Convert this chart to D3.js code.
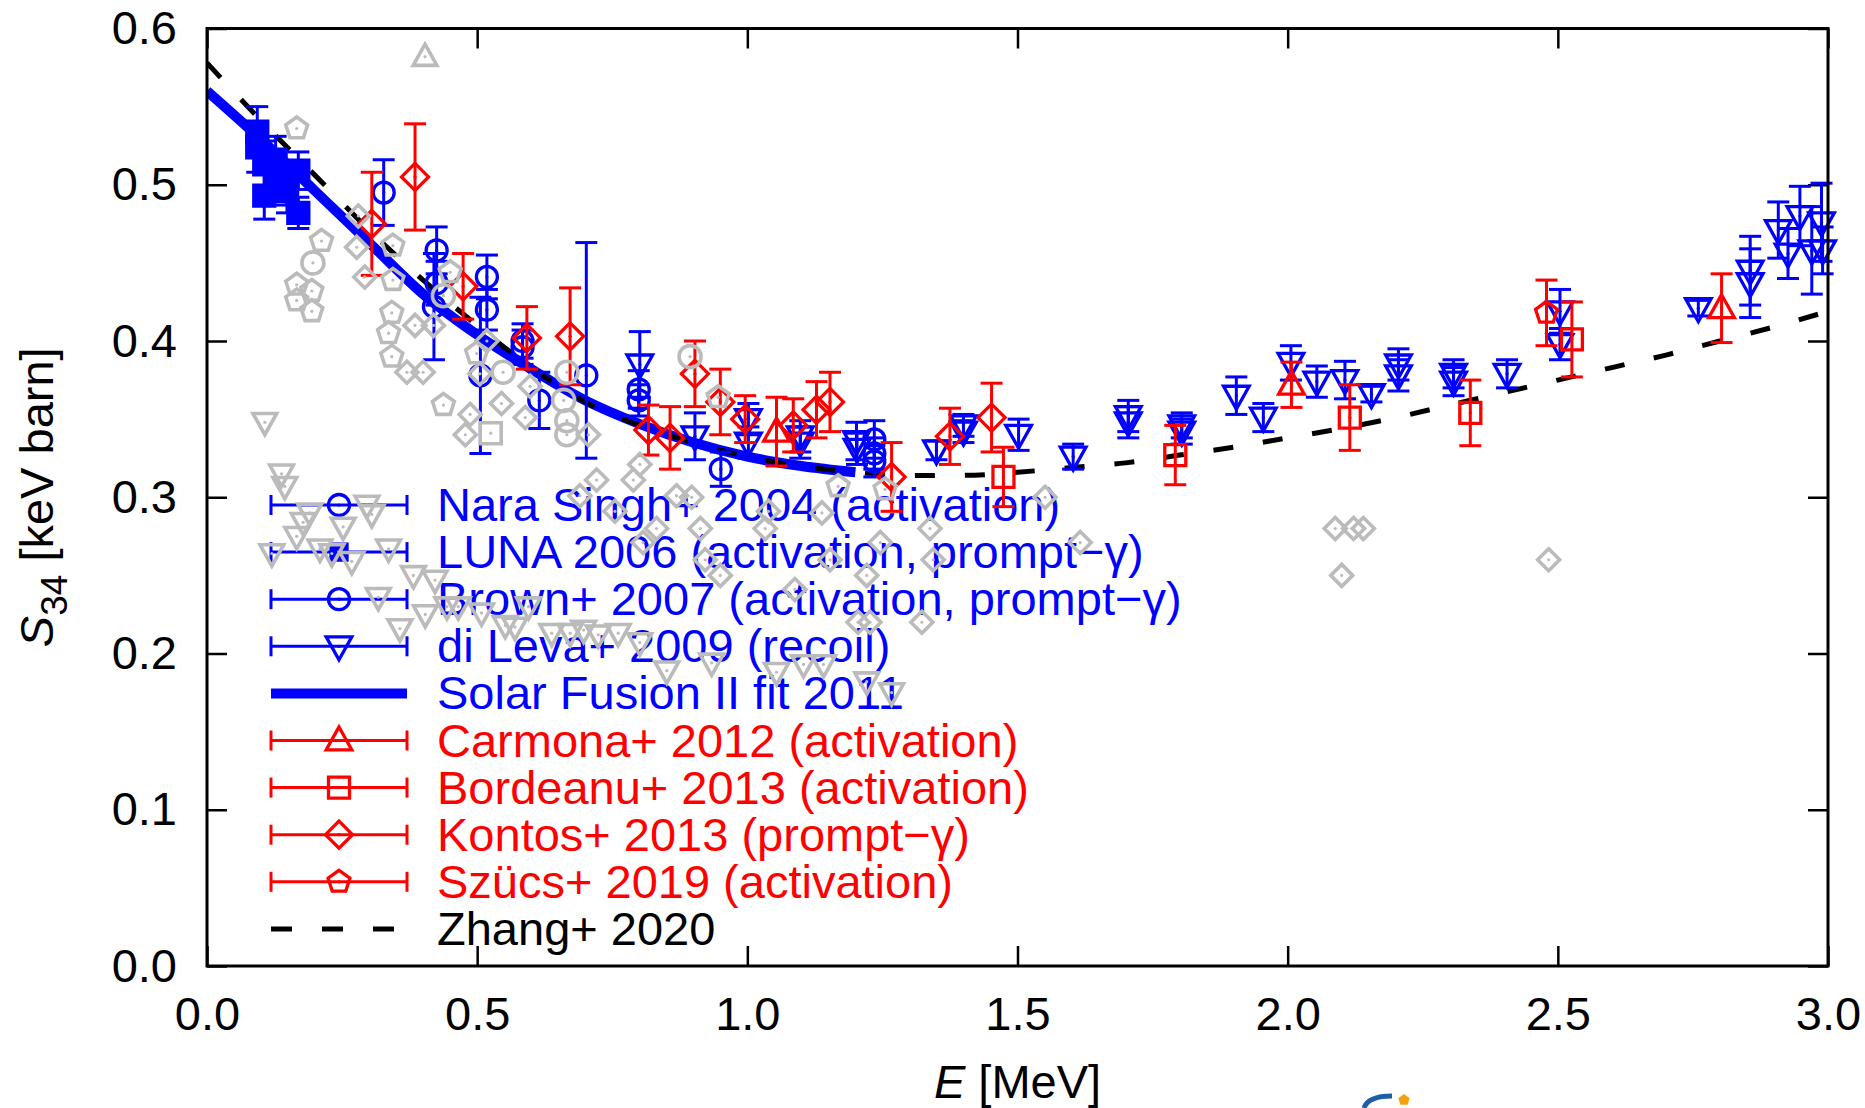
<!DOCTYPE html>
<html><head><meta charset="utf-8">
<script src="https://cdn.jsdelivr.net/npm/d3@7"></script>
<style>
html,body{margin:0;padding:0;background:#fff;}
svg{display:block;font-family:"Liberation Sans",Arial,Helvetica,sans-serif;}
</style></head><body>
<svg id="chart" width="1865" height="1108"></svg>
<script>
// ---------------- data ----------------
const xDomain = [0, 3];
const yDomain = [0, 0.6];
const xTicks = [0, 0.5, 1.0, 1.5, 2.0, 2.5, 3.0];
const yTicks = [0, 0.1, 0.2, 0.3, 0.4, 0.5, 0.6];
const xLabelItalic = "E", xLabelRest = " [MeV]";
const yLabelMain = "S", yLabelSub = "34", yLabelRest = " [keV barn]";

const naraE = [0.420, 0.506, 0.615, 0.951];
const naraS = [0.422, 0.378, 0.362, 0.318];
const naraErr = [0.034, 0.050, 0.018, 0.011];

const lunaE = [0.093, 0.093, 0.106, 0.106, 0.127, 0.127, 0.148, 0.148, 0.169, 0.169];
const lunaS = [0.534, 0.524, 0.493, 0.513, 0.516, 0.505, 0.501, 0.496, 0.509, 0.482];
const lunaErr = [0.016, 0.016, 0.015, 0.015, 0.015, 0.015, 0.014, 0.014, 0.012, 0.010];

const brownE = [0.327, 0.425, 0.425, 0.518, 0.518, 0.584, 0.584, 0.702, 0.799, 0.799, 1.235, 1.235, 1.235];
const brownS = [0.495, 0.458, 0.437, 0.441, 0.420, 0.400, 0.396, 0.378, 0.369, 0.362, 0.337, 0.328, 0.323];
const brownErrLo = [0.021, 0.015, 0.014, 0.014, 0.013, 0.011, 0.011, 0.053, 0.012, 0.010, 0.012, 0.010, 0.010];
const brownErrHi = [0.021, 0.015, 0.014, 0.014, 0.013, 0.011, 0.011, 0.085, 0.012, 0.010, 0.012, 0.010, 0.010];

const dilevaE = [0.801, 0.903, 1.002, 1.002, 1.098, 1.098, 1.202, 1.203, 1.350, 1.400, 1.400, 1.502, 1.603, 1.705, 1.705, 1.804, 1.804, 1.905, 1.955, 2.006, 2.054, 2.106, 2.155, 2.205, 2.205, 2.307, 2.307, 2.406, 2.504, 2.504, 2.760, 2.856, 2.856, 2.908, 2.926, 2.948, 2.970, 2.988, 2.990];
const dilevaS = [0.385, 0.339, 0.350, 0.335, 0.339, 0.335, 0.336, 0.331, 0.330, 0.346, 0.342, 0.340, 0.326, 0.352, 0.348, 0.346, 0.342, 0.365, 0.351, 0.386, 0.374, 0.375, 0.366, 0.385, 0.378, 0.379, 0.374, 0.379, 0.419, 0.398, 0.421, 0.445, 0.437, 0.471, 0.456, 0.480, 0.458, 0.476, 0.458];
const dilevaErr = [0.021, 0.015, 0.010, 0.010, 0.010, 0.010, 0.012, 0.010, 0.006, 0.007, 0.007, 0.010, 0.008, 0.010, 0.010, 0.008, 0.008, 0.012, 0.009, 0.011, 0.010, 0.012, 0.005, 0.010, 0.010, 0.009, 0.009, 0.009, 0.014, 0.010, 0.005, 0.022, 0.022, 0.018, 0.016, 0.019, 0.028, 0.025, 0.015];

const sf2E = [0, 0.1, 0.2, 0.3, 0.4, 0.5, 0.6, 0.7, 0.8, 0.9, 1.0, 1.1, 1.2];
const sf2S = [0.560, 0.529, 0.496, 0.463, 0.430, 0.404, 0.382, 0.362, 0.347, 0.335, 0.326, 0.320, 0.316];

const carmonaE = [1.054, 2.007, 2.803];
const carmonaS = [0.342, 0.372, 0.421];
const carmonaErr = [0.022, 0.0145, 0.022];

const bordeanuE = [1.474, 1.792, 2.115, 2.338, 2.526];
const bordeanuS = [0.313, 0.327, 0.351, 0.354, 0.401];
const bordeanuErr = [0.019, 0.019, 0.021, 0.021, 0.024];

const kontosE = [0.305, 0.385, 0.474, 0.592, 0.672, 0.817, 0.857, 0.903, 0.950, 0.996, 1.085, 1.128, 1.153, 1.267, 1.375, 1.452];
const kontosS = [0.475, 0.505, 0.435, 0.402, 0.403, 0.343, 0.338, 0.379, 0.361, 0.350, 0.346, 0.356, 0.361, 0.313, 0.339, 0.351];
const kontosErr = [0.033, 0.034, 0.021, 0.020, 0.031, 0.016, 0.020, 0.021, 0.021, 0.015, 0.017, 0.018, 0.019, 0.022, 0.018, 0.022];

const szucsE = [2.479];
const szucsS = [0.418];
const szucsErr = [0.021];

const zhangE = [0, 0.1, 0.2, 0.3, 0.4, 0.5, 0.6, 0.7, 0.8, 0.9, 1.0, 1.1, 1.2, 1.3, 1.4, 1.5, 1.6, 1.7, 1.8, 1.9, 2.0, 2.1, 2.2, 2.3, 2.4, 2.5, 2.6, 2.7, 2.8, 2.9, 3.0];
const zhangS = [0.578, 0.541, 0.506, 0.471, 0.439, 0.410, 0.383, 0.361, 0.346, 0.335, 0.326, 0.320, 0.316, 0.314, 0.314, 0.316, 0.319, 0.322, 0.327, 0.332, 0.338, 0.344, 0.351, 0.359, 0.367, 0.375, 0.383, 0.391, 0.400, 0.409, 0.419];

// older (grey) data, no legend entry
const oldUpTriE = [0.4035];
const oldUpTriS = [0.582];
const oldSquareE = [0.525];
const oldSquareS = [0.341];
const oldCircleE = [0.196, 0.4375, 0.548, 0.666, 0.660, 0.666, 0.666, 0.894];
const oldCircleS = [0.450, 0.429, 0.380, 0.380, 0.362, 0.349, 0.340, 0.390];
const oldPentagonE = [0.166, 0.212, 0.166, 0.194, 0.166, 0.194, 0.344, 0.344, 0.342, 0.336, 0.342, 0.450, 0.499, 0.4375, 0.946, 1.168, 1.255];
const oldPentagonS = [0.536, 0.464, 0.436, 0.432, 0.426, 0.419, 0.461, 0.439, 0.418, 0.405, 0.390, 0.444, 0.392, 0.359, 0.364, 0.307, 0.305];
const oldDiamondE = [0.280, 0.277, 0.292, 0.370, 0.400, 0.385, 0.419, 0.518, 0.505, 0.598, 0.487, 0.478, 0.545, 0.589, 0.706, 0.801, 0.789, 0.721, 0.690, 0.755, 0.869, 0.897, 0.832, 0.807, 0.913, 1.039, 1.033, 1.138, 0.922, 0.950, 1.088, 1.153, 1.246, 1.221, 1.338, 1.344, 1.205, 1.227, 1.323, 1.551, 1.616, 2.088, 2.122, 2.140, 2.100, 2.483];
const oldDiamondS = [0.480, 0.460, 0.441, 0.380, 0.380, 0.410, 0.410, 0.400, 0.379, 0.371, 0.353, 0.340, 0.360, 0.351, 0.340, 0.321, 0.311, 0.311, 0.301, 0.291, 0.301, 0.300, 0.280, 0.271, 0.280, 0.291, 0.280, 0.290, 0.260, 0.250, 0.241, 0.260, 0.271, 0.250, 0.280, 0.260, 0.220, 0.220, 0.220, 0.300, 0.271, 0.280, 0.280, 0.280, 0.250, 0.260];
const oldDownTriE = [0.107, 0.138, 0.144, 0.190, 0.178, 0.296, 0.305, 0.252, 0.166, 0.120, 0.209, 0.231, 0.268, 0.336, 0.382, 0.422, 0.317, 0.357, 0.404, 0.444, 0.465, 0.508, 0.552, 0.570, 0.595, 0.638, 0.672, 0.697, 0.724, 0.761, 0.801, 0.851, 0.934, 1.054, 1.104, 1.141, 1.221, 1.267];
const oldDownTriS = [0.348, 0.315, 0.307, 0.290, 0.284, 0.295, 0.289, 0.281, 0.275, 0.264, 0.267, 0.264, 0.259, 0.267, 0.250, 0.247, 0.236, 0.216, 0.225, 0.230, 0.230, 0.226, 0.218, 0.217, 0.230, 0.213, 0.213, 0.215, 0.212, 0.213, 0.207, 0.189, 0.194, 0.188, 0.193, 0.193, 0.182, 0.175];

const legendLabels = [
  "Nara Singh+ 2004 (activation)",
  "LUNA 2006 (activation, prompt\u2212\u03b3)",
  "Brown+ 2007 (activation, prompt\u2212\u03b3)",
  "di Leva+ 2009 (recoil)",
  "Solar Fusion II fit 2011",
  "Carmona+ 2012 (activation)",
  "Bordeanu+ 2013 (activation)",
  "Kontos+ 2013 (prompt\u2212\u03b3)",
  "Sz\u00fccs+ 2019 (activation)",
  "Zhang+ 2020"
];

// ---------------- layout / style ----------------
const BLUE = "#0000ff", RED = "#ff0000", GRAY = "#bbbbbb", BLACK = "#000000";
const FS = 47;
const PL = 207, PR = 1828, PT = 28.5, PB = 966;
const CAP = 11;

const x = d3.scaleLinear().domain(xDomain).range([PL, PR]);
const y = d3.scaleLinear().domain(yDomain).range([PB, PT]);
const svg = d3.select("#chart");
svg.append("rect").attr("width", 1865).attr("height", 1108).attr("fill", "#fff");

svg.append("defs").append("clipPath").attr("id", "clip")
  .append("rect").attr("x", PL).attr("y", PT).attr("width", PR - PL).attr("height", PB - PT);

// ---------------- axes ----------------
function styleAxis(g) {
  g.attr("font-size", FS).attr("font-family", null);
  g.select(".domain").remove();
  g.selectAll(".tick line").attr("stroke", BLACK).attr("stroke-width", 2.5);
  g.selectAll(".tick text").attr("fill", BLACK);
}
svg.append("g").attr("transform", `translate(0,${PB})`)
  .call(d3.axisBottom(x).tickValues(xTicks).tickFormat(d3.format(".1f")).tickSize(-20).tickPadding(31))
  .call(styleAxis);
svg.append("g").attr("transform", `translate(0,${PT})`)
  .call(d3.axisTop(x).tickValues(xTicks).tickFormat("").tickSize(-20))
  .call(styleAxis);
svg.append("g").attr("transform", `translate(${PL},0)`)
  .call(d3.axisLeft(y).tickValues(yTicks).tickFormat(d3.format(".1f")).tickSize(-20).tickPadding(30))
  .call(styleAxis);
svg.append("g").attr("transform", `translate(${PR},0)`)
  .call(d3.axisRight(y).tickValues(yTicks).tickFormat("").tickSize(-20))
  .call(styleAxis);

// axis labels
const xl = svg.append("text").attr("x", (PL + PR) / 2).attr("y", 1098)
  .attr("text-anchor", "middle").attr("font-size", FS).attr("fill", BLACK);
xl.append("tspan").attr("font-style", "italic").text(xLabelItalic);
xl.append("tspan").text(xLabelRest);

const yl = svg.append("text").attr("transform", `translate(53,${(PT + PB) / 2}) rotate(-90)`)
  .attr("text-anchor", "middle").attr("font-size", FS).attr("fill", BLACK);
yl.append("tspan").attr("font-style", "italic").text(yLabelMain);
yl.append("tspan").attr("font-size", 37).attr("dy", 14).text(yLabelSub);
yl.append("tspan").attr("dy", -14).text(yLabelRest);

// ---------------- markers ----------------
function markerPath(type, s) {
  switch (type) {
    case "square": return `M${-s},${-s}H${s}V${s}H${-s}Z`;
    case "diamond": return `M0,${-s}L${s},0L0,${s}L${-s},0Z`;
    case "up": return `M0,${-s}L${s * 0.95},${s * 0.7}L${-s * 0.95},${s * 0.7}Z`;
    case "down": return `M0,${s}L${s * 0.95},${-s * 0.7}L${-s * 0.95},${-s * 0.7}Z`;
    case "pentagon": {
      const p = d3.range(5).map(k => {
        const a = -Math.PI / 2 + k * 2 * Math.PI / 5;
        return [s * Math.cos(a), s * Math.sin(a)];
      });
      return "M" + p.map(q => q.join(",")).join("L") + "Z";
    }
    case "circle": {
      const p = d3.path(); p.arc(0, 0, s, 0, 2 * Math.PI); p.closePath(); return p.toString();
    }
  }
}
const markerSize = { circle: 10.5, square: 10.5, diamond: 13.5, up: 13.5, down: 13.5, pentagon: 11.5, filledsquare: 10.5 };

function drawMarker(g, type, cx, cy, color, sizeOverride, sw) {
  const filled = type === "filledsquare";
  const t = filled ? "square" : type;
  const s = sizeOverride || markerSize[type];
  g.append("path").attr("d", markerPath(t, s))
    .attr("transform", `translate(${cx},${cy})`)
    .attr("fill", filled ? color : "none")
    .attr("stroke", color).attr("stroke-width", sw || 3.3).attr("stroke-linejoin", "miter");
  if (!filled) {
    g.append("circle").attr("cx", cx).attr("cy", cy).attr("r", 1.6).attr("fill", color);
  }
}

function drawErrSeries(g, E, S, errLo, errHi, type, color) {
  const grp = g.append("g");
  E.forEach((e, i) => {
    const px = x(e), py = y(S[i]);
    const y1 = y(S[i] - errLo[i]), y2 = y(S[i] + errHi[i]);
    const lg = grp.append("g").attr("stroke", color).attr("stroke-width", 3);
    lg.append("line").attr("x1", px).attr("x2", px).attr("y1", y1).attr("y2", y2);
    lg.append("line").attr("x1", px - CAP).attr("x2", px + CAP).attr("y1", y1).attr("y2", y1);
    lg.append("line").attr("x1", px - CAP).attr("x2", px + CAP).attr("y1", y2).attr("y2", y2);
    drawMarker(grp, type, px, py, color);
  });
}

// ---------------- legend ----------------
const legRowY0 = 505, legStep = 47.1;
const legX1 = 271, legX2 = 407, legMX = 339, legTX = 437;
const legendDefs = [
  { kind: "err", type: "circle", color: BLUE },
  { kind: "err", type: "filledsquare", color: BLUE },
  { kind: "err", type: "circle", color: BLUE },
  { kind: "err", type: "down", color: BLUE },
  { kind: "thick", color: BLUE },
  { kind: "err", type: "up", color: RED },
  { kind: "err", type: "square", color: RED },
  { kind: "err", type: "diamond", color: RED },
  { kind: "err", type: "pentagon", color: RED },
  { kind: "dash", color: BLACK }
];
const leg = svg.append("g");
legendDefs.forEach((d, i) => {
  const ry = legRowY0 + i * legStep;
  if (d.kind === "err") {
    const lg = leg.append("g").attr("stroke", d.color).attr("stroke-width", 3);
    lg.append("line").attr("x1", legX1).attr("x2", legX2).attr("y1", ry).attr("y2", ry);
    lg.append("line").attr("x1", legX1).attr("x2", legX1).attr("y1", ry - 10).attr("y2", ry + 10);
    lg.append("line").attr("x1", legX2).attr("x2", legX2).attr("y1", ry - 10).attr("y2", ry + 10);
    drawMarker(leg, d.type, legMX, ry, d.color, d.type === "filledsquare" ? 8 : null);
  } else if (d.kind === "thick") {
    leg.append("line").attr("x1", legX1).attr("x2", legX2).attr("y1", ry).attr("y2", ry)
      .attr("stroke", d.color).attr("stroke-width", 10);
  } else {
    leg.append("line").attr("x1", legX1).attr("x2", legX2).attr("y1", ry).attr("y2", ry)
      .attr("stroke", d.color).attr("stroke-width", 5).attr("stroke-dasharray", "21,30");
  }
  leg.append("text").attr("x", legTX).attr("y", ry + 16).attr("font-size", FS)
    .attr("fill", d.color).text(legendLabels[i]);
});

// ---------------- curves ----------------
const plot = svg.append("g").attr("clip-path", "url(#clip)");
const line = d3.line().x(d => x(d[0])).y(d => y(d[1])).curve(d3.curveMonotoneX);
plot.append("path").datum(sf2E.map((e, i) => [e, sf2S[i]])).attr("d", line)
  .attr("fill", "none").attr("stroke", BLUE).attr("stroke-width", 10);
plot.append("path").datum(zhangE.map((e, i) => [e, zhangS[i]])).attr("d", line)
  .attr("fill", "none").attr("stroke", BLACK).attr("stroke-width", 5).attr("stroke-dasharray", "20,30");

// ---------------- data with error bars ----------------
const dataG = svg.append("g");
drawErrSeries(dataG, naraE, naraS, naraErr, naraErr, "circle", BLUE);
drawErrSeries(dataG, lunaE, lunaS, lunaErr, lunaErr, "filledsquare", BLUE);
drawErrSeries(dataG, brownE, brownS, brownErrLo, brownErrHi, "circle", BLUE);
drawErrSeries(dataG, dilevaE, dilevaS, dilevaErr, dilevaErr, "down", BLUE);
drawErrSeries(dataG, carmonaE, carmonaS, carmonaErr, carmonaErr, "up", RED);
drawErrSeries(dataG, bordeanuE, bordeanuS, bordeanuErr, bordeanuErr, "square", RED);
drawErrSeries(dataG, kontosE, kontosS, kontosErr, kontosErr, "diamond", RED);
drawErrSeries(dataG, szucsE, szucsS, szucsErr, szucsErr, "pentagon", RED);

// ---------------- older grey data ----------------
const grayG = svg.append("g");
function drawGray(E, S, type, size) {
  E.forEach((e, i) => drawMarker(grayG, type, x(e), y(S[i]), GRAY, size, 3.6));
}
drawGray(oldDownTriE, oldDownTriS, "down", 12.5);
drawGray(oldDiamondE, oldDiamondS, "diamond", 11);
drawGray(oldPentagonE, oldPentagonS, "pentagon", 11.5);
drawGray(oldCircleE, oldCircleS, "circle", 11);
drawGray(oldSquareE, oldSquareS, "square", 10.5);
drawGray(oldUpTriE, oldUpTriS, "up", 12.5);

// ---------------- frame ----------------
svg.append("rect").attr("x", PL).attr("y", PT).attr("width", PR - PL).attr("height", PB - PT)
  .attr("fill", "none").attr("stroke", BLACK).attr("stroke-width", 3);

// ---------------- partial logo at bottom ----------------
svg.append("path").attr("d", "M1364,1108 Q1368,1096 1392,1096")
  .attr("fill", "none").attr("stroke", "#1f5fa6").attr("stroke-width", 5);
svg.append("path").attr("d", markerPath("pentagon", 6)).attr("transform", "translate(1404,1100)")
  .attr("fill", "#f2a20c");
</script>
</body></html>
